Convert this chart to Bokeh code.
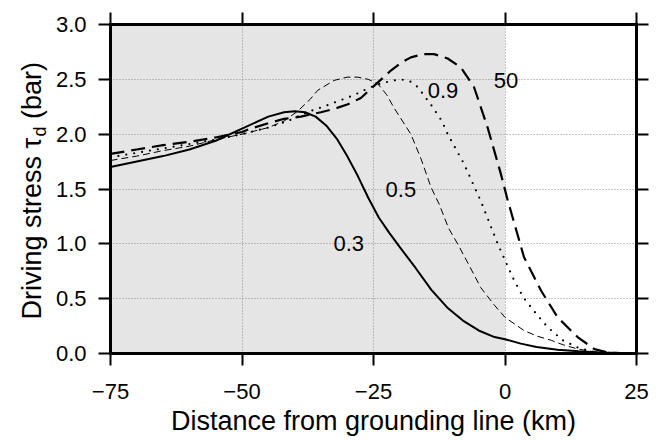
from bokeh.plotting import figure
from bokeh.layouts import row
from bokeh.models import (BoxAnnotation, LinearAxis, FixedTicker, Grid,
                          CustomJSTickFormatter, Range1d, ColumnDataSource)
from bokeh.core.properties import value
from bokeh.embed import file_html
from bokeh.resources import INLINE
import math

# ---------------- data ----------------
x_03 = [-75, -70, -65, -60, -55, -50, -45, -42, -40, -38, -36, -34, -32, -30, -28, -26,
        -24, -22, -20, -17, -14, -11, -8, -5, -2, 0, 3, 6, 10, 14, 18, 22, 25]
y_03 = [1.70, 1.75, 1.80, 1.86, 1.94, 2.05, 2.16, 2.20, 2.21, 2.20, 2.16, 2.08, 1.96, 1.80,
        1.62, 1.42, 1.24, 1.10, 0.97, 0.78, 0.58, 0.42, 0.30, 0.21, 0.15, 0.13, 0.09, 0.06,
        0.035, 0.02, 0.01, 0.005, 0.003]

x_05 = [-75, -70, -65, -60, -55, -50, -45, -42, -39.4, -37, -35.6, -32.5, -30, -28, -26,
        -24.2, -22.5, -21.1, -19.5, -17.9, -16, -14.1, -12.5, -10.7, -9, -7, -4.6, -2, 0,
        3.6, 6, 8.8, 11, 13.9, 17, 20, 25]
y_05 = [1.76, 1.80, 1.85, 1.89, 1.95, 2.00, 2.06, 2.12, 2.21, 2.32, 2.40, 2.49, 2.52, 2.52,
        2.50, 2.46, 2.36, 2.24, 2.12, 2.00, 1.78, 1.52, 1.36, 1.14, 1.00, 0.82, 0.60, 0.44,
        0.33, 0.21, 0.16, 0.12, 0.08, 0.04, 0.015, 0.005, 0.002]

x_09 = [-75, -70, -65, -60, -55, -50, -45, -41.3, -37, -34, -31.8, -29, -26.8, -24.5, -23,
        -21, -19.8, -18, -16.6, -14.1, -12, -10.9, -7.8, -4.6, -1.3, 0.2, 1.7, 3.5, 5.8,
        8.1, 11, 14, 17, 20, 25]
y_09 = [1.79, 1.83, 1.87, 1.91, 1.95, 2.00, 2.06, 2.12, 2.21, 2.26, 2.30, 2.35, 2.40, 2.45,
        2.47, 2.49, 2.50, 2.48, 2.43, 2.27, 2.12, 2.00, 1.73, 1.39, 0.99, 0.83, 0.67, 0.51,
        0.37, 0.24, 0.12, 0.05, 0.015, 0.005, 0.002]

x_50 = [-75, -70, -65, -60, -55, -50, -48.4, -45, -42, -38.8, -35, -32.5, -30, -27.4, -24.9,
        -21.7, -19.8, -17.9, -15.5, -13.5, -10.9, -8.4, -5.9, -3.3, -0.8, 0.5, 1.1, 3.6,
        6.9, 10, 13.8, 17, 19.5, 22, 25]
y_50 = [1.82, 1.86, 1.90, 1.93, 1.97, 2.02, 2.05, 2.10, 2.14, 2.16, 2.20, 2.23, 2.27, 2.33,
        2.44, 2.58, 2.65, 2.70, 2.73, 2.73, 2.69, 2.61, 2.43, 2.06, 1.64, 1.40, 1.30, 0.88,
        0.57, 0.33, 0.15, 0.04, 0.01, 0.003, 0.001]

curve_names = ["0.3", "0.5", "0.9", "50"]
label_x = [-29.7, -19.8, -11.8, 0.2]
label_y = [1.0, 1.5, 2.40, 2.49]

x_ticks = [-75, -50, -25, 0, 25]
x_tick_labels = ["\u221275", "\u221250", "\u221225", "0", "25"]
y_ticks = [0.0, 0.5, 1.0, 1.5, 2.0, 2.5, 3.0]
y_tick_labels = ["0.0", "0.5", "1.0", "1.5", "2.0", "2.5", "3.0"]
shade_left, shade_right = -75, 0  # floating part left of the grounding line

x_title = "Distance from grounding line (km)"
y_title_parts = ["Driving stress \u03c4", "d", "(bar)"]

FONT = "Liberation Sans"

# ---------------- layout ----------------
TOTAL_W, TOTAL_H = 658, 438
LW = 50                      # strip holding the y title
W = TOTAL_W - LW
FL, FT, FW, FH = 110 - LW, 24, 526, 329

p = figure(width=W, height=TOTAL_H, output_backend="svg", toolbar_location=None,
           title=None, title_location=None,
           x_range=Range1d(-75, 25), y_range=Range1d(0, 3),
           x_axis_location=None, y_axis_location=None,
           min_border_left=FL, min_border_top=FT,
           min_border_right=W - FL - FW, min_border_bottom=TOTAL_H - FT - FH)
p.background_fill_color = "white"
p.border_fill_color = "white"
p.outline_line_color = "black"
p.outline_line_width = 3

blank = CustomJSTickFormatter(code="return ''")


def make_axis(ticks, labels, show):
    ax = LinearAxis(ticker=FixedTicker(ticks=ticks))
    ax.axis_line_color = "black"
    ax.axis_line_width = 3
    ax.axis_line_cap = "square"
    ax.major_tick_out = 12
    ax.major_tick_in = 0
    ax.major_tick_line_width = 2
    ax.minor_tick_line_color = None
    if show:
        ax.major_label_overrides = {t: l for t, l in zip(ticks, labels)}
        ax.major_label_text_font = FONT
        ax.major_label_text_font_size = "22px"
        ax.major_label_text_color = "black"
        ax.major_label_standoff = 12
    else:
        ax.formatter = blank
        ax.major_label_text_font_size = "1px"
        ax.major_label_standoff = 0
    return ax


xb = make_axis(x_ticks, x_tick_labels, True)
xb.major_label_standoff = 18
xb.axis_label = x_title
xb.axis_label_text_font = FONT
xb.axis_label_text_font_size = "27px"
xb.axis_label_text_font_style = "normal"
xb.axis_label_text_color = "black"
xb.axis_label_standoff = 4
p.add_layout(xb, "below")
p.add_layout(make_axis(y_ticks, y_tick_labels, True), "left")
p.add_layout(make_axis(x_ticks, x_tick_labels, False), "above")
p.add_layout(make_axis(y_ticks, y_tick_labels, False), "right")

xg = Grid(dimension=0, ticker=FixedTicker(ticks=x_ticks[1:-1]),
          grid_line_color="#8c8c8c", grid_line_dash="1 2", grid_line_width=1, level="underlay")
yg = Grid(dimension=1, ticker=FixedTicker(ticks=y_ticks[1:-1]),
          grid_line_color="#8c8c8c", grid_line_dash="1 2", grid_line_width=1, level="underlay")
shade = BoxAnnotation(left=shade_left, right=shade_right, fill_color="#e5e5e5",
                      fill_alpha=1.0, line_color=None, level="underlay")
p.center = [shade, xg, yg]

# curves
p.line(x_03, y_03, line_color="black", line_width=2)
p.line(x_05, y_05, line_color="black", line_width=1, line_dash="7 4")
p.line(x_09, y_09, line_color="black", line_width=2.2, line_dash="0 8", line_cap="round")
p.line(x_50, y_50, line_color="black", line_width=2.2, line_dash="14 7")

src = ColumnDataSource(dict(x=label_x, y=label_y, t=curve_names))
p.text(x="x", y="y", text="t", source=src, text_font=value(FONT),
       text_font_size="22px", text_align="center", text_baseline="middle",
       text_color="black")

# ---------------- y title strip (pixel coordinates) ----------------
q = figure(frame_width=LW, frame_height=TOTAL_H, output_backend="svg",
           toolbar_location=None, title=None, title_location=None,
           x_range=Range1d(0, LW), y_range=Range1d(0, TOTAL_H),
           x_axis_location=None, y_axis_location=None,
           min_border_left=0, min_border_right=0,
           min_border_top=0, min_border_bottom=0)
q.outline_line_color = None
q.grid.visible = False
q.background_fill_color = "white"
q.border_fill_color = "white"

DY = 22                      # measured vertical offset of the strip's frame
base_x = 31
start_y = TOTAL_H - 317 + DY
fs_main, fs_sub = 27, 18
w_main = (6.334 + 0.44) * fs_main
w_sub = 0.556 * fs_sub
w_space = 0.278 * fs_main
q.text(x=[base_x], y=[start_y], text=[y_title_parts[0]], text_font=value(FONT),
       text_font_size=f"{fs_main}px", angle=math.pi / 2, text_align="left",
       text_baseline="alphabetic", text_color="black")
q.text(x=[base_x + 8], y=[start_y + w_main], text=[y_title_parts[1]], text_font=value(FONT),
       text_font_size=f"{fs_sub}px", angle=math.pi / 2, text_align="left",
       text_baseline="alphabetic", text_color="black")
q.text(x=[base_x], y=[start_y + w_main + w_sub + w_space], text=[y_title_parts[2]],
       text_font=value(FONT), text_font_size=f"{fs_main}px", angle=math.pi / 2,
       text_align="left", text_baseline="alphabetic", text_color="black")

layout = row(q, p, spacing=0)
open("out.html", "w").write(file_html(layout, INLINE))
